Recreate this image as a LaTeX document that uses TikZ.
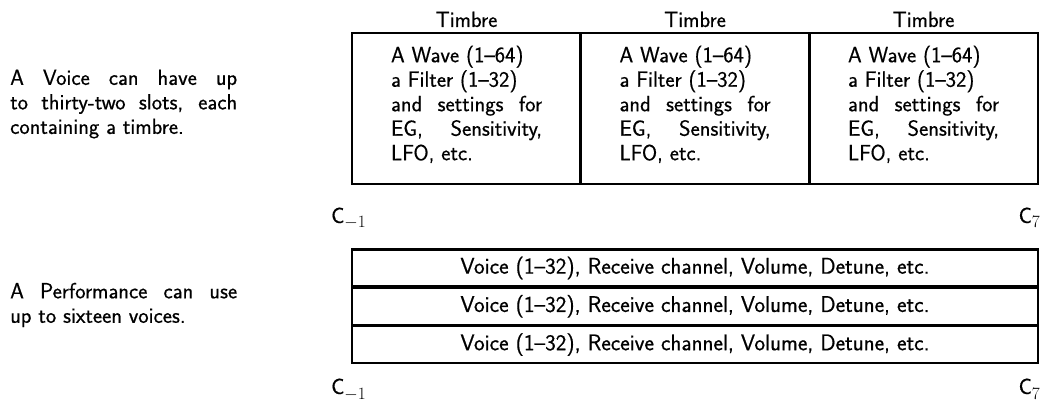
\documentclass[tikz,border=0pt]{standalone}
\usepackage{fontspec}
\setsansfont{Latin Modern Sans}[FakeBold=0.6]
\renewcommand{\familydefault}{\sfdefault}
% key labels: C with a lowered octave number
\newcommand{\keyname}[1]{C\raisebox{-5pt}{\fontsize{16}{16}\selectfont$#1$}}
\begin{document}
\begin{tikzpicture}[x=1pt,y=-1pt,
  font=\fontsize{22}{24.5}\selectfont\sffamily,
  cell/.style={draw, line width=2.4pt, minimum width=229pt, minimum height=151pt,
    inner sep=0pt, align=left, text depth=11pt},
  voicerow/.style={draw, line width=2.4pt, minimum width=686pt, minimum height=37pt,
    inner sep=0pt, font=\fontsize{22.6}{24.5}\selectfont\sffamily},
  caption/.style={anchor=base, inner sep=0pt},
  note/.style={align=left, inner sep=0pt},
  keylabel/.style={inner sep=0pt}]
\useasboundingbox (0,0) rectangle (1041,403);

% timbre contents, shared by all three slots
\newcommand{\timbretext}{A Wave (1--64)\\ a Filter (1--32)\\
  \makebox[151pt][s]{and settings for}\\ \makebox[151pt][s]{EG, Sensitivity,}\\ LFO, etc.}

% the voice: three timbre slots side by side
\node[cell] (t1) at (466.5,108.5) {\timbretext};
\node[cell] (t2) at (695,108.5) {\timbretext};
\node[cell] (t3) at (923.5,108.5) {\timbretext};
\node[caption] (h1) at (t1.center |- 0,27) {Timbre};
\node[caption] (h2) at (t2.center |- 0,27) {Timbre};
\node[caption] (h3) at (t3.center |- 0,27) {Timbre};

\node[note, anchor=west] (n1) at (10,104)
  {\makebox[227pt][s]{A Voice can have up}\\
   \makebox[227pt][s]{to thirty-two slots, each}\\
   containing a timbre.};

\node[keylabel, anchor=base west] (lo1) at (331,223) {\keyname{-1}};
\node[keylabel, anchor=base east] (hi1) at (1040,223) {\keyname{7}};

% the performance: stacked voice rows
\node[voicerow] (v1) at (695,268) {Voice (1--32), Receive channel, Volume, Detune, etc.};
\node[voicerow] (v2) at (695,306.3) {Voice (1--32), Receive channel, Volume, Detune, etc.};
\node[voicerow] (v3) at (695,344.6) {Voice (1--32), Receive channel, Volume, Detune, etc.};

\node[note, anchor=west] (n2) at (10,305)
  {\makebox[227pt][s]{A Performance can use}\\
   up to sixteen voices.};

\node[keylabel, anchor=base west] (lo2) at (331,394) {\keyname{-1}};
\node[keylabel, anchor=base east] (hi2) at (1040,394) {\keyname{7}};
\end{tikzpicture}
\end{document}
